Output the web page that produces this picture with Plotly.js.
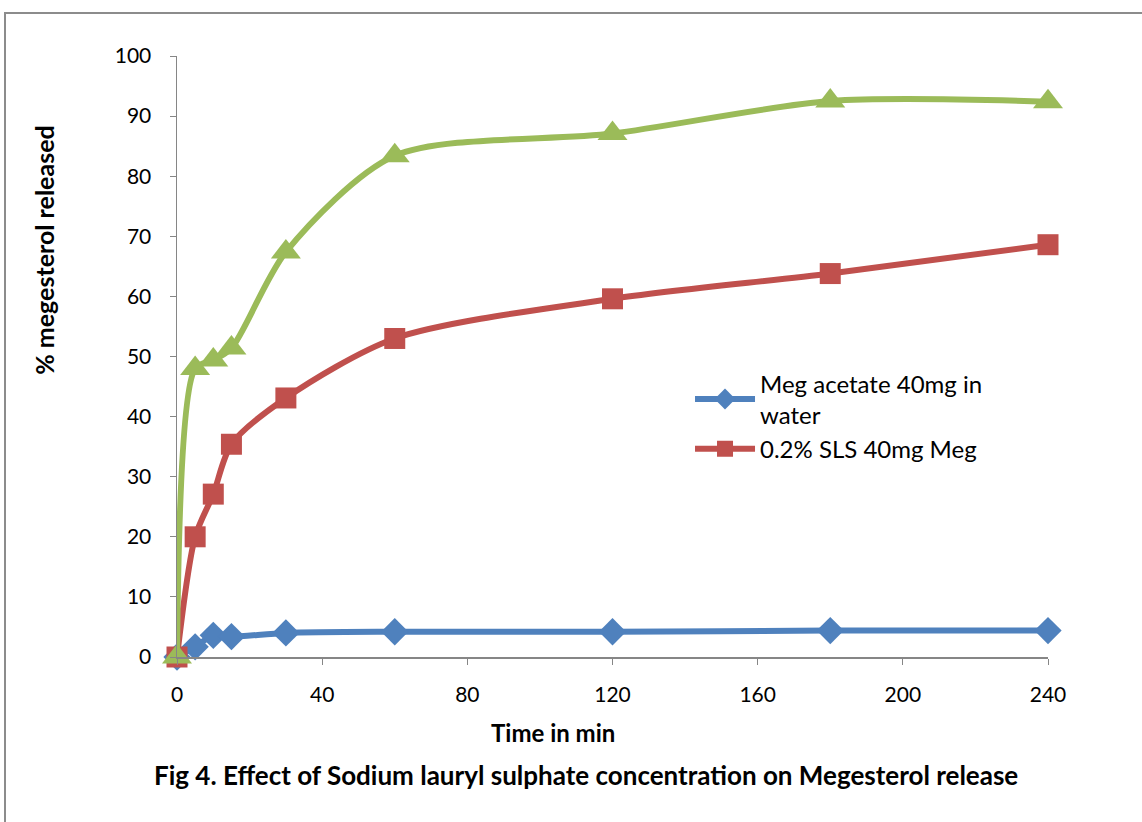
<!DOCTYPE html>
<html>
<head>
<meta charset="utf-8">
<script src="https://cdn.plot.ly/plotly-3.0.1.min.js"></script>
<style>
  html, body { margin: 0; padding: 0; background: #fff; }
  #frame { position: absolute; left: 4px; top: 12px; width: 1140px; height: 812px;
           border-top: 2px solid #8c8c8c; border-left: 2px solid #8c8c8c; }
  #chart { position: absolute; left: 0; top: 0; width: 1142px; height: 822px; }
</style>
</head>
<body>
<div id="frame"></div>
<div id="chart"></div>
<script>
const time = [0, 5, 10, 15, 30, 60, 120, 180, 240];
const megWater = [0, 1.7, 3.6, 3.4, 4.0, 4.2, 4.2, 4.4, 4.4];
const sls02 = [0, 20.0, 27.1, 35.4, 43.1, 53.0, 59.6, 63.8, 68.6];
const slsHigh = [0, 48.0, 49.4, 51.4, 67.4, 83.4, 87.1, 92.5, 92.4];
const seriesNames = ["Meg acetate 40mg in<br>water", "0.2% SLS 40mg Meg", ""];
const xTicks = [0, 40, 80, 120, 160, 200, 240];
const yTicks = [0, 10, 20, 30, 40, 50, 60, 70, 80, 90, 100];

const font = "Lato, 'Open Sans', sans-serif";

const traces = [
  { x: time, y: megWater, name: seriesNames[0], mode: "lines+markers", cliponaxis: false,
    line: { color: "#4F81BD", width: 6, shape: "spline", smoothing: 0.8 },
    marker: { symbol: "diamond", size: 21, color: "#4F81BD" } },
  { x: time, y: sls02, name: seriesNames[1], mode: "lines+markers", cliponaxis: false,
    line: { color: "#C0504D", width: 6, shape: "spline", smoothing: 0.8 },
    marker: { symbol: "square", size: 21, color: "#C0504D" } },
  { x: time, y: slsHigh, name: seriesNames[2], showlegend: false, mode: "lines+markers", cliponaxis: false,
    line: { color: "#9BBB59", width: 6, shape: "spline", smoothing: 0.8 },
    marker: { symbol: "triangle-up", size: 26, color: "#9BBB59" } }
];

const layout = {
  width: 1142, height: 822,
  margin: { l: 177, r: 94, t: 56, b: 165 },
  paper_bgcolor: "rgba(0,0,0,0)", plot_bgcolor: "rgba(0,0,0,0)",
  font: { family: font, size: 21, color: "#000" },
  showlegend: true,
  legend: { x: 0.589, y: 0.492, xanchor: "left", yanchor: "top", traceorder: "normal",
            font: { family: font, size: 24, color: "#000" }, bgcolor: "rgba(0,0,0,0)",
            tracegroupgap: 0, itemwidth: 60 },
  xaxis: { range: [0, 240], tickvals: xTicks, ticktext: xTicks.map(String),
           showgrid: false, zeroline: false, showline: true, linecolor: "#868686", linewidth: 1.5,
           ticks: "outside", ticklen: 6, tickcolor: "#868686", ticklabelstandoff: 12,
           tickfont: { family: font, size: 21 } },
  yaxis: { range: [0, 100], tickvals: yTicks, ticktext: yTicks.map(String),
           showgrid: false, zeroline: false, showline: true, linecolor: "#868686", linewidth: 1.5,
           ticks: "outside", ticklen: 6, tickcolor: "#868686", ticklabelstandoff: 14,
           tickfont: { family: font, size: 21 } },
  annotations: [
    { text: "<b>Time in min</b>", xref: "paper", yref: "paper", x: 0.432, y: -0.126,
      xanchor: "center", yanchor: "middle", showarrow: false, font: { family: font, size: 24 } },
    { text: "<b>Fig 4. Effect of Sodium lauryl sulphate concentration on Megesterol release</b>",
      xref: "paper", yref: "paper", x: 0.470, y: -0.196, xanchor: "center", yanchor: "middle",
      showarrow: false, font: { family: font, size: 26 } },
    { text: "<b>% megesterol released</b>", xref: "paper", yref: "paper", x: -0.152, y: 0.677,
      xanchor: "center", yanchor: "middle", textangle: -90, showarrow: false,
      font: { family: font, size: 25 } }
  ]
};

Plotly.newPlot("chart", traces, layout, { displayModeBar: false, staticPlot: true });
</script>
</body>
</html>
